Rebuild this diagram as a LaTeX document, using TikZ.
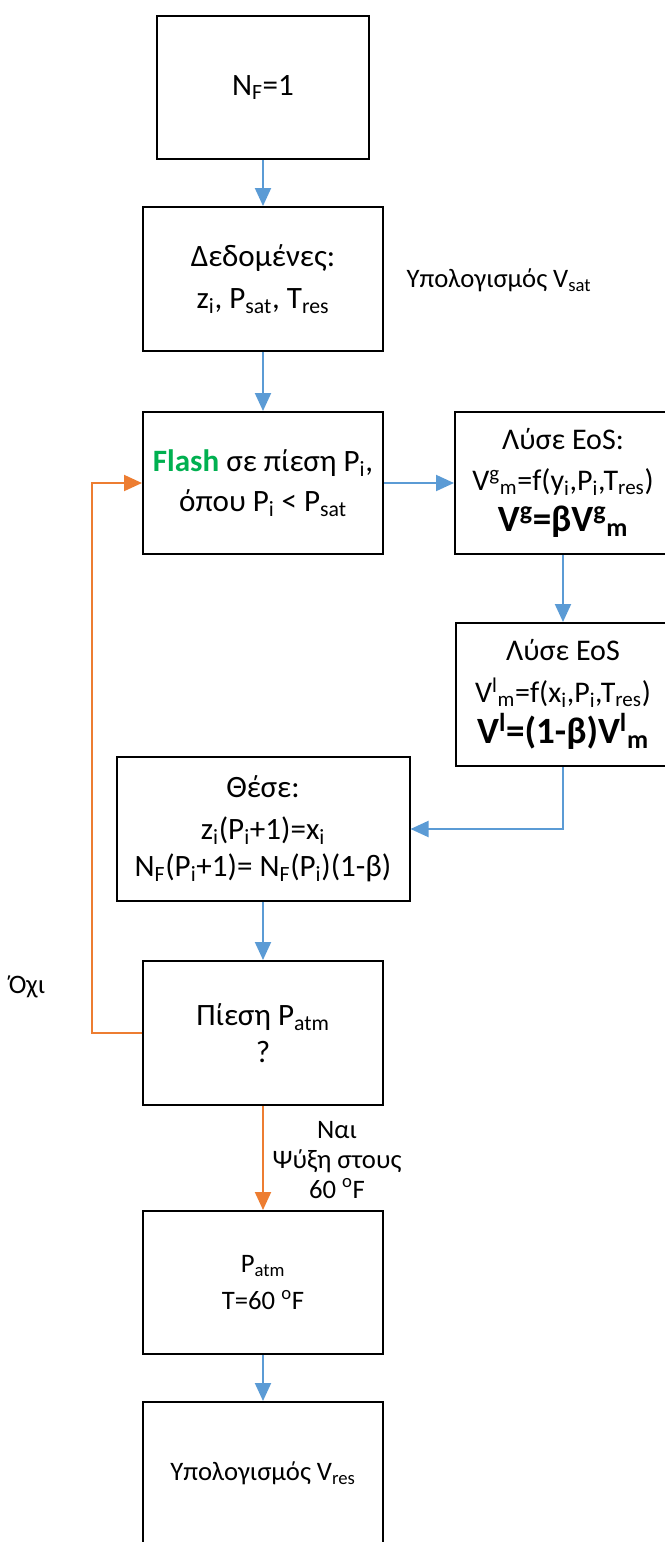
\documentclass[tikz,border=0pt]{standalone}
\usepackage{fontspec}
\setmainfont{Carlito}
\usetikzlibrary{arrows.meta}
\definecolor{ablue}{RGB}{91,155,213}
\definecolor{aorange}{RGB}{237,125,49}
\definecolor{agreen}{RGB}{0,176,80}
\newcommand{\sbt}[1]{\textsubscript{#1}}
\newcommand{\spt}[1]{\textsuperscript{#1}}
\newcommand{\bigbold}{\fontsize{27.8}{31}\selectfont\bfseries}
\begin{document}
\begin{tikzpicture}[x=0.75pt,y=-0.75pt,
  box/.style={draw=black, line width=1.5pt, rectangle, inner sep=0pt, align=center,
              minimum width=180pt, minimum height=107.25pt, font=\fontsize{23.3}{31.5}\selectfont},
  rbox/.style={box, font=\fontsize{22.5}{31}\selectfont},
  lbl/.style={inner sep=0pt, font=\fontsize{20}{24}\selectfont},
  conn/.style={line width=1.5pt, draw=ablue, -{Triangle[length=13.5pt,width=12pt,fill=ablue]}},
  oconn/.style={line width=1.5pt, draw=aorange, -{Triangle[length=13.5pt,width=12pt,fill=aorange]}}]
\useasboundingbox (0,0) rectangle (664,1542);

\node[box, minimum width=159pt] (b1) at (263,87.5) {N\sbt{F}=1};
\node[box, minimum height=108pt] (b2) at (263,279) {Δεδομένες:\\z\sbt{i}, P\sbt{sat}, T\sbt{res}};
\node[box, minimum height=106.5pt, font=\fontsize{23.3}{30}\selectfont] (b3) at (263,483)
  {\textcolor{agreen}{\textbf{Flash}} σε πίεση P\sbt{i},\\όπου P\sbt{i} < P\sbt{sat}};
\node[rbox, minimum width=162pt, minimum height=106.5pt] (b4) at (563,483)
  {Λύσε EoS:\\V\spt{g}\sbt{m}=f(y\sbt{i},P\sbt{i},T\sbt{res})\\{\bigbold V\spt{g}=βV\spt{g}\sbt{m}}};
\node[rbox, minimum width=160.5pt] (b5) at (563,694.5)
  {Λύσε EoS\\V\spt{l}\sbt{m}=f(x\sbt{i},P\sbt{i},T\sbt{res})\\{\bigbold V\spt{l}=(1-β)V\spt{l}\sbt{m}}};
\node[box, minimum width=219.75pt, minimum height=108pt] (b6) at (263,829)
  {Θέσε:\\z\sbt{i}(P\sbt{i}+1)=x\sbt{i}\\[-4pt]N\sbt{F}(P\sbt{i}+1)= N\sbt{F}(P\sbt{i})(1-β)};
\node[box, minimum height=108pt, font=\fontsize{23.3}{27.75}\selectfont] (b7) at (263,1033) {Πίεση P\sbt{atm}\\?};
\node[box, font=\fontsize{20}{27.75}\selectfont] (b8) at (263,1282.5) {P\sbt{atm}\\T=60 \spt{o}F};
\node[box, font=\fontsize{20}{24}\selectfont] (b9) at (263,1473.5) {Υπολογισμός V\sbt{res}};

\node[lbl, anchor=base] (vsat) at (499,287) {Υπολογισμός V\sbt{sat}};
\node[lbl, anchor=base] (oxi) at (27,993) {Όχι};
\node[lbl, anchor=base, align=center, font=\fontsize{20}{22.5}\selectfont] (nai) at (337,1198) {Ναι\\Ψύξη στους\\60 \spt{o}F};

\coordinate (loop) at (92,1033);
\draw[conn] (b1.south) -- (b2.north);
\draw[conn] (b2.south) -- (b3.north);
\draw[conn] (b3.east) -- (b4.west);
\draw[conn] (b4.south) -- (b5.north);
\draw[conn] (b5.south) |- (b6.east);
\draw[conn] (b6.south) -- (b7.north);
\draw[oconn] (b7.west) -- (loop) |- (b3.west);
\draw[oconn] (b7.south) -- (b8.north);
\draw[conn] (b8.south) -- (b9.north);
\end{tikzpicture}
\end{document}
